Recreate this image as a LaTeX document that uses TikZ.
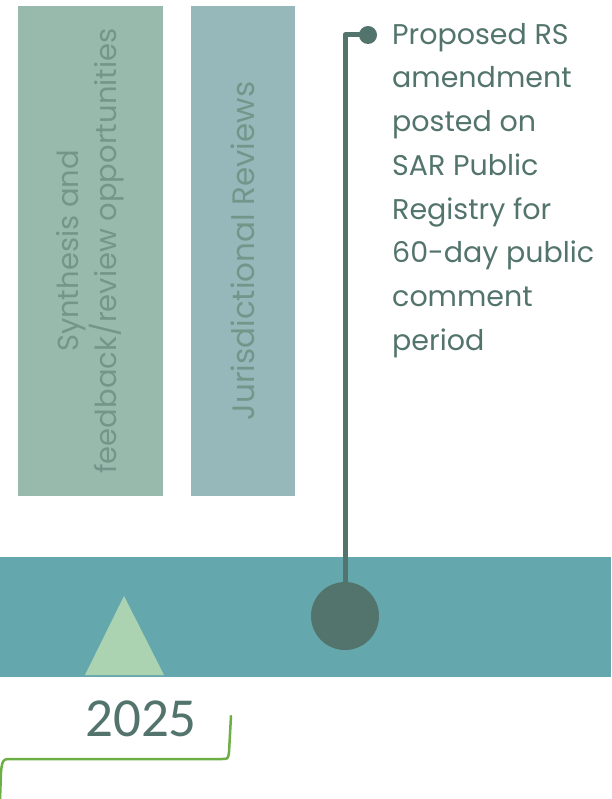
\documentclass[tikz,border=0pt]{standalone}
\usepackage{fontspec}
\setmainfont{Poppins}
\newfontfamily\yearfont{Carlito}
\usetikzlibrary{positioning}
\definecolor{synthfill}{HTML}{97BAAD}
\definecolor{jurisfill}{HTML}{97B8BA}
\definecolor{phasetext}{HTML}{72978A}
\definecolor{bandfill}{HTML}{64A8AE}
\definecolor{stemcol}{HTML}{53746C}
\definecolor{markfill}{HTML}{ABD3B2}
\definecolor{bracecol}{HTML}{6DAE45}
\begin{document}
\begin{tikzpicture}[x=1pt, y=-1pt, line join=round, line cap=round,
	phase/.style={rotate=90, inner sep=0, minimum width=490pt, align=center,
		text=phasetext, font=\fontsize{29}{38}\selectfont},
	eventtext/.style={anchor=north west, inner sep=0, align=left, text=stemcol,
		font=\fontsize{28.5}{43.7}\selectfont},
	stemline/.style={draw=stemcol, line width=5pt, line cap=butt}]
	\useasboundingbox (0,0) rectangle (611,799);
	% timeline band
	\fill[bandfill] (0,557) rectangle (611,677);
	% phase boxes
	\node[phase, fill=synthfill, minimum height=145pt] (synth) at (90.5,251)
		{Synthesis and\\feedback/review opportunities};
	\node[phase, fill=jurisfill, minimum height=104pt, font=\fontsize{31}{38}\selectfont] (juris) at (243,251)
		{Jurisdictional Reviews};
	% start marker
	\path (85,675) coordinate (TL) (124,596) coordinate (TA) (164,675) coordinate (TR);
	\fill[markfill] (TL)--(TA)--(TR)--cycle;
	% event
	\node[circle, fill=stemcol, inner sep=0, minimum size=68pt] (event) at (345,616) {};
	\node[circle, fill=stemcol, inner sep=0, minimum size=18pt] (dot) at (368,35) {};
	\draw[stemline] (event.center) |- (dot.center);
	\node[eventtext] (note) at (392,23)
		{Proposed RS\\amendment\\posted on\\SAR Public\\Registry for\\60-day public\\comment\\period};
	% year
	\node[text=stemcol, font=\yearfont\fontsize{55}{60}\selectfont, inner sep=0] (year) at (141,719) {2025};
	\draw[bracecol, line width=2.5pt] (231,716) -- (229,752) .. controls (228,759) .. (222,759)
		-- (8,759) .. controls (3,759) and (2,762) .. (1,772) -- (0,800);
\end{tikzpicture}
\end{document}
